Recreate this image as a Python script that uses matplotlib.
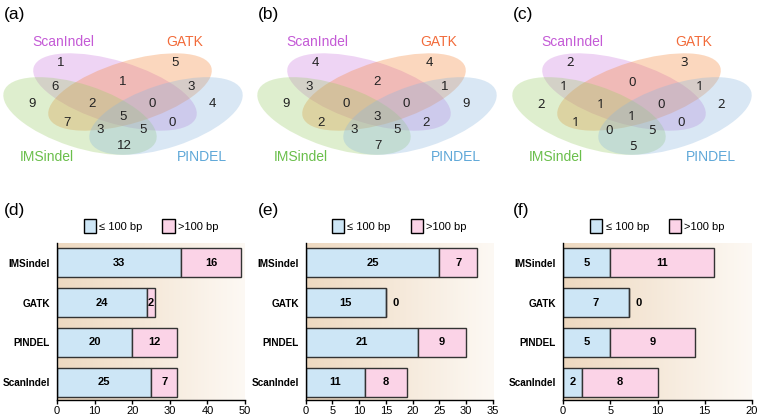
import numpy as np
import matplotlib.pyplot as plt
from matplotlib.patches import Ellipse, Patch
from matplotlib.colors import LinearSegmentedColormap

plt.rcParams['font.family'] = ['Liberation Sans', 'DejaVu Sans']

# ---- dados dos diagramas de Venn ----
# ordem das regioes: S=ScanIndel G=GATK I=IMSindel P=PINDEL
REGIOES = ['S', 'G', 'SG', 'SI', 'GP', 'I', 'P', 'SGI', 'SGP', 'SGIP', 'GI', 'SP', 'GIP', 'SIP', 'IP']
VENN_A = [1, 5, 1, 6, 3, 9, 4, 2, 0, 5, 7, 0, 3, 5, 12]
VENN_B = [4, 4, 2, 3, 1, 9, 9, 0, 0, 3, 2, 2, 3, 5, 7]
VENN_C = [2, 3, 0, 1, 1, 2, 2, 1, 0, 1, 1, 0, 0, 5, 5]
CONJUNTOS = ['ScanIndel', 'GATK', 'IMSindel', 'PINDEL']

# ---- dados das barras (de baixo para cima) ----
CATEGORIAS = ['ScanIndel', 'PINDEL', 'GATK', 'IMSindel']
CURTOS_D = [25, 20, 24, 33]
LONGOS_D = [7, 12, 2, 16]
CURTOS_E = [11, 21, 15, 25]
LONGOS_E = [8, 9, 0, 7]
CURTOS_F = [2, 5, 7, 5]
LONGOS_F = [8, 9, 0, 11]
XMAX = [50, 35, 20]
XPASSO = [10, 5, 5]

# ---- layout (pixels) ----
W, H = 760, 418
OFFSETS = [0, 254, 509]
POS_REGIAO = [(61, 63), (175, 63), (123, 82), (55, 87), (191, 87), (32, 104), (212, 104),
              (92, 104), (152, 104), (123, 117), (67, 123), (172, 123), (100, 130), (143, 130), (124, 146)]
# (cx, cy, largura, altura, angulo, cor)
ELIPSES = [(115, 92, 170, 62, 17, '#cd7ade'),
           (130, 92, 170, 62, -17, '#f58437'),
           (80, 116, 160, 63, 18, '#9bcd69'),
           (166, 116, 160, 63, -18, '#8ab6de')]
POS_NOME = [(63, 42), (185, 42), (47, 157), (202, 157)]
COR_NOME = ['#c45ad6', '#f26b3a', '#6abf4b', '#5fa8d8']
FONTE_NUM = ['Liberation Sans', 'Liberation Sans', 'Noto Sans']

AZUL = '#cde6f6'
ROSA = '#fbd3e7'

fig = plt.figure(figsize=(W / 100, H / 100), dpi=100)
ax0 = fig.add_axes([0, 0, 1, 1])
ax0.set_xlim(0, W)
ax0.set_ylim(H, 0)
ax0.axis('off')

for k, (dados, letra) in enumerate(zip([VENN_A, VENN_B, VENN_C], 'abc')):
    dx = OFFSETS[k]
    for cx, cy, w, h, ang, cor in ELIPSES:
        ax0.add_patch(Ellipse((cx + dx, cy), w, h, angle=ang, facecolor=cor,
                              edgecolor='none', alpha=0.32))
    for (x, y), v in zip(POS_REGIAO, dados):
        ax0.text(x + dx, y, str(v), ha='center', va='center', fontsize=9.5, color='#222222',
                 family=[FONTE_NUM[k], 'DejaVu Sans'])
    for (x, y), nome, cor in zip(POS_NOME, CONJUNTOS, COR_NOME):
        ax0.text(x + dx, y, nome, ha='center', va='center', fontsize=10, color=cor)
    ax0.text(dx + 4, 15, '(%s)' % letra, ha='left', va='center', fontsize=12.5)
    ax0.text(dx + 4, 211, '(%s)' % 'def'[k], ha='left', va='center', fontsize=12.5)

fundo = LinearSegmentedColormap.from_list('fundo', ['#eed9c0', '#fdf9f4'])
esquerdas = [57, 305.7, 563]
larguras = [188, 187.3, 189]
y_pos = np.arange(len(CATEGORIAS))

for k, (curtos, longos) in enumerate([(CURTOS_D, LONGOS_D), (CURTOS_E, LONGOS_E), (CURTOS_F, LONGOS_F)]):
    ax = fig.add_axes([esquerdas[k] / W, 1 - 400 / H, larguras[k] / W, 157 / H])
    ax.imshow(np.linspace(0, 1, 256)[None, :], cmap=fundo, aspect='auto',
              extent=[0, XMAX[k], -0.5, 3.5], zorder=0)
    ax.barh(y_pos, curtos, height=0.73, color=AZUL, edgecolor='#333333', linewidth=1, zorder=2)
    ax.barh(y_pos, longos, left=curtos, height=0.73, color=ROSA, edgecolor='#333333', linewidth=1, zorder=2)
    for i in range(len(CATEGORIAS)):
        c, l = curtos[i], longos[i]
        ax.text(c / 2, i, str(c), ha='center', va='center', fontsize=8, fontweight='bold', zorder=3)
        if l > 0:
            ax.text(c + l / 2, i, str(l), ha='center', va='center', fontsize=8, fontweight='bold', zorder=3)
        else:
            ax.annotate(str(l), (c, i), xytext=(7, 0), textcoords='offset points',
                        ha='center', va='center', fontsize=8, fontweight='bold')
    ax.set_xlim(0, XMAX[k])
    ax.set_ylim(-0.45, 3.5)
    ax.set_xticks(np.arange(0, XMAX[k] + 1, XPASSO[k]))
    ax.set_yticks(y_pos)
    ax.set_yticklabels(CATEGORIAS, fontweight='bold', fontsize=7.2)
    ax.tick_params(axis='y', length=0, pad=5)
    ax.tick_params(axis='x', length=3, width=1, labelsize=8, pad=1.5)
    for s in ['top', 'right']:
        ax.spines[s].set_visible(False)
    for s in ['left', 'bottom']:
        ax.spines[s].set_linewidth(1)
    ax.legend([Patch(facecolor=AZUL, edgecolor='black'), Patch(facecolor=ROSA, edgecolor='black')],
              ['\u2264 100 bp', '>100 bp'], ncol=2, loc='lower center', bbox_to_anchor=(0.5, 1.0),
              frameon=False, fontsize=8, handlelength=1.1, handleheight=1.5,
              columnspacing=1.8, handletextpad=0.3, borderaxespad=0.5)

plt.savefig('out.png', dpi=100)
